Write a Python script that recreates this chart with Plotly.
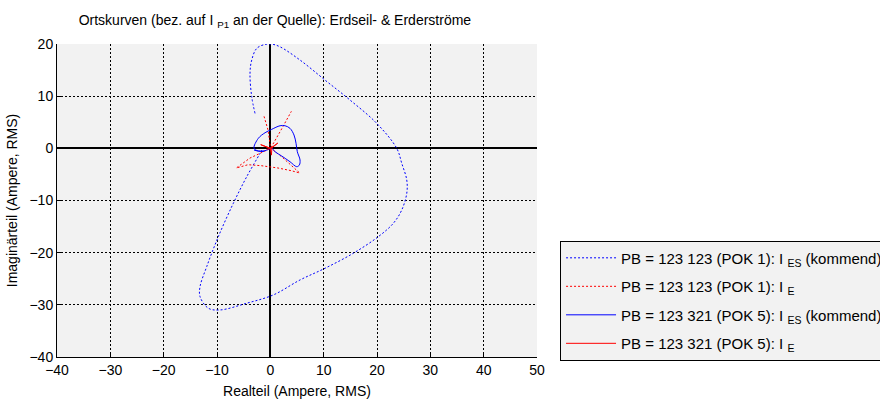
import plotly.graph_objects as go

# POK 1, earth-wire current I_ES (real, imaginary) in A RMS
es1_re = [-2.87, -3.49, -3.81, -3.49, -2.55, -0.99, 0.26, 1.82, 5.57, 10.26, 14.95,
          19.95, 23.70, 24.64, 25.58, 25.58, 24.64, 23.06, 20.25, 15.56, 10.26, 5.57,
          0.56, -4.43, -9.43, -11.63, -13.18, -13.18, -11.93, -9.75, -6.94, -4.43,
          -1.93, -1.61]
es1_im = [6.70, 9.89, 14.37, 16.92, 19.16, 19.92, 19.98, 19.46, 16.92, 13.08, 9.25,
          4.79, 0.00, -2.87, -6.07, -8.62, -11.82, -14.37, -16.93, -20.11, -22.99,
          -25.23, -28.10, -29.69, -30.98, -30.65, -28.43, -26.51, -22.68, -16.93,
          -10.54, -5.44, -0.96, -0.33]

# POK 1, earth current I_E
e1_re = [-1.18, -0.43, 0.04, 2.19, 5.51, 3.94, 1.44, -1.69, -4.18, -6.38, -3.81,
         -1.56, 0.04, 2.00, 3.94]
e1_im = [6.13, 3.50, 0.06, -1.67, -4.73, -4.29, -3.77, -3.33, -3.14, -3.77, -1.86,
         -0.71, 0.00, 3.50, 7.09]

# POK 5, earth-wire current I_ES
es5_re = [-1.20, -2.25, -3.06, -2.25, -0.99, 0.26, 1.82, 2.76, 3.69, 4.44, 4.82,
          5.06, 5.57, 5.44, 4.95, 3.69, 2.14, 0.88, 0.26, -0.99, -2.25, -3.06]
es5_im = [-0.60, -0.52, 0.00, 1.92, 2.99, 3.64, 4.33, 4.33, 3.83, 2.55, 0.96,
          -0.65, -2.24, -3.20, -3.52, -2.57, -1.48, -0.65, 0.00, -0.46, -0.52, -0.33]

# POK 5, earth current I_E
e5_re = [0.0, -1.8, -0.2, 0.0, 1.4, 0.3, 0.2, 0.0, -0.7]
e5_im = [0.0, 0.7, 0.1, 0.0, 1.0, 0.1, -1.3, 0.0, -0.2]

x_range = [-40, 50]
y_range = [-40, 20]
x_ticks = [-40, -30, -20, -10, 0, 10, 20, 30, 40, 50]
y_ticks = [-40, -30, -20, -10, 0, 10, 20]

names = [
    "PB = 123 123 (POK 1): I <sub>ES</sub> (kommend)",
    "PB = 123 123 (POK 1): I <sub>E</sub>",
    "PB = 123 321 (POK 5): I <sub>ES</sub> (kommend)",
    "PB = 123 321 (POK 5): I <sub>E</sub>",
]

FONT = "Liberation Sans, Arial, sans-serif"
BG = "#f2f2f2"

styles = [
    dict(color="#0000ff", width=1, dash="2px,2px", shape="spline"),
    dict(color="#ff0000", width=1, dash="2px,2px"),
    dict(color="#0000ff", width=1, shape="spline"),
    dict(color="#ff0000", width=1),
]
series = [(es1_re, es1_im), (e1_re, e1_im), (es5_re, es5_im), (e5_re, e5_im)]

fig = go.Figure()
for i, ((xs, ys), nm, st) in enumerate(zip(series, names, styles)):
    fig.add_trace(go.Scatter(x=xs, y=ys, mode="lines", name=nm, line=st,
                             legendgroup=f"g{i}"))

axis_common = dict(
    showgrid=True, gridcolor="black", gridwidth=1, griddash="2px,2px",
    zeroline=True, zerolinecolor="black", zerolinewidth=1.5,
    showline=True, linecolor="black", linewidth=1,
    ticks="inside", ticklen=4, tickcolor="black",
    tickfont=dict(family=FONT, size=14, color="black"),
    fixedrange=True,
)

fig.update_xaxes(range=x_range, tickvals=x_ticks, **axis_common,
                 title=dict(text="Realteil (Ampere, RMS)", standoff=9,
                            font=dict(family=FONT, size=14, color="black")))
fig.update_yaxes(range=y_range, tickvals=y_ticks, **axis_common,
                 title=dict(text="Imaginärteil (Ampere, RMS)", standoff=8,
                            font=dict(family=FONT, size=14, color="black")))

fig.update_layout(
    width=880, height=403,
    margin=dict(l=57, r=343, t=44, b=46, autoexpand=False),
    paper_bgcolor="white", plot_bgcolor=BG,
    font=dict(family=FONT, size=14, color="black"),
    title=dict(text="Ortskurven (bez. auf I <sub>P1</sub> an der Quelle): Erdseil- & Erderströme",
               x=0.454, xref="paper", xanchor="center",
               y=0.95, yref="container", yanchor="middle",
               font=dict(family=FONT, size=14, color="black")),
    showlegend=True,
    legend=dict(x=1.048, xanchor="left", y=0.372, yanchor="top",
                bgcolor=BG, bordercolor="black", borderwidth=1,
                itemwidth=50, tracegroupgap=6, traceorder="grouped",
                font=dict(family=FONT, size=15, color="black")),
)

fig.write_html("out.html")
